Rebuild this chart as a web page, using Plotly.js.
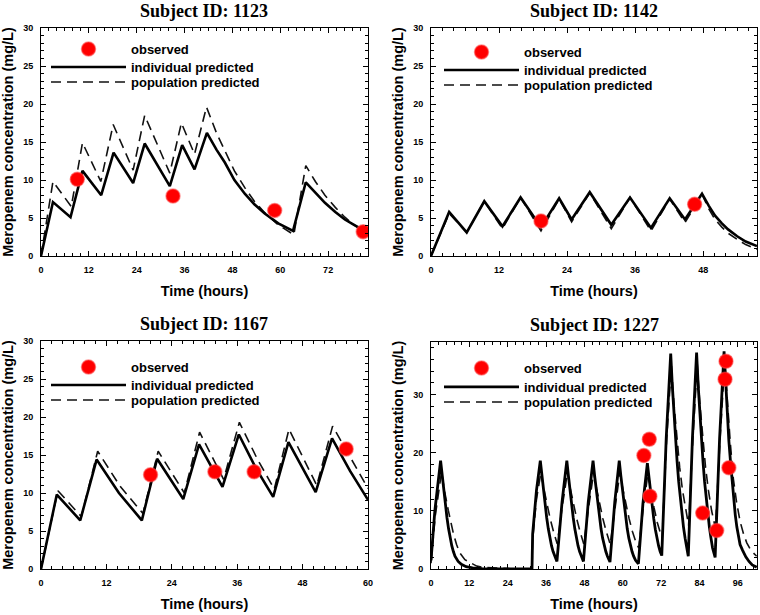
<!DOCTYPE html>
<html>
<head>
<meta charset="utf-8">
<script src="https://cdn.plot.ly/plotly-3.0.1.min.js"></script>
<style>html,body{margin:0;padding:0;background:#fff;}#chart{width:760px;height:615px;}</style>
</head>
<body>
<div id="chart"></div>
<script>
// ---------- Subject 1123 ----------
const s1123_ind_t = [0, 3, 7.4, 10.4, 15.1, 18.2, 23.1, 26, 32.3, 35.4, 38.5, 41.6, 44, 46.1, 48.5, 51.1, 53.5, 56.1, 59.5, 63.2, 66.4, 68.8, 71.2, 73.8, 76.2, 78.5, 80.8];
const s1123_ind_c = [0, 7.1, 5.1, 11.2, 8.0, 13.6, 9.6, 14.8, 9.2, 14.6, 11.4, 16.2, 14.0, 12.3, 10.0, 8.2, 6.8, 5.6, 4.3, 3.3, 9.7, 8.3, 7.0, 5.8, 4.8, 4.1, 3.4];
const s1123_pop_t = [0, 3, 7.6, 10.4, 15, 18.1, 23.1, 26, 32.3, 35.2, 38.5, 41.5, 44, 46.1, 48.5, 51.1, 53.5, 56.1, 59.5, 63.4, 66.4, 68.8, 71.2, 73.8, 76.2, 78.5, 80.8];
const s1123_pop_c = [0, 9.8, 6.5, 14.9, 9.8, 17.3, 11.3, 18.5, 10.9, 17.5, 13.4, 19.6, 16.2, 13.8, 11.2, 9.0, 7.2, 5.7, 4.1, 2.8, 11.9, 9.8, 8.0, 6.4, 5.1, 4.1, 3.3];
const s1123_obs_t = [9.1, 33.1, 58.6, 80.8];
const s1123_obs_c = [10.1, 7.9, 6.0, 3.2];

// ---------- Subject 1142 ----------
const s1142_ind_t = [0, 3.2, 6.3, 9.4, 12.6, 15.8, 19.4, 22.6, 24.8, 28, 31.8, 35.1, 38.8, 42.1, 44.8, 47.8, 49, 50.1, 51.3, 52.4, 54, 55.5, 57.5];
const s1142_ind_c = [0, 5.8, 3.1, 7.2, 3.9, 7.7, 3.8, 7.6, 4.8, 8.4, 4.1, 7.7, 3.7, 7.6, 4.8, 8.2, 6.6, 5.3, 4.3, 3.5, 2.6, 1.9, 1.3];
const s1142_pop_t = [0, 3.2, 6.3, 9.4, 12.6, 15.8, 19.4, 22.6, 24.8, 28, 31.8, 35.1, 38.8, 42.1, 44.8, 47.8, 49, 50.1, 51.3, 52.4, 54, 55.5, 57.5];
const s1142_pop_c = [0, 5.6, 3.1, 7.2, 3.6, 7.7, 3.3, 7.5, 4.5, 8.3, 3.6, 7.7, 3.3, 7.5, 4.4, 8.1, 6.2, 4.8, 3.8, 3.0, 2.2, 1.5, 0.9];
const s1142_obs_t = [19.4, 46.5];
const s1142_obs_c = [4.6, 6.8];

// ---------- Subject 1167 ----------
const s1167_ind_t = [0, 2.9, 7.2, 10.2, 14.3, 18.5, 21.3, 26.1, 29, 33.3, 36.3, 39.4, 42.6, 45.4, 50.4, 53.4, 56.7, 60];
const s1167_ind_c = [0, 9.8, 6.4, 14.4, 10.0, 6.4, 14.5, 9.2, 16.4, 10.8, 17.7, 13.3, 9.5, 16.7, 10.1, 17.2, 12.9, 9.1];
const s1167_pop_t = [0, 3.1, 7.4, 10.4, 14.5, 18.7, 21.5, 26.3, 29.1, 33.5, 36.4, 39.6, 42.8, 45.5, 50.6, 53.5, 60];
const s1167_pop_c = [0, 10.3, 6.9, 15.5, 10.9, 7.3, 15.5, 10.0, 18.0, 11.8, 19.3, 14.6, 10.5, 18.4, 11.0, 18.8, 10.6];
const s1167_obs_t = [20.1, 31.9, 39.1, 56];
const s1167_obs_c = [12.4, 12.8, 12.8, 15.8];

// ---------- Subject 1227 ----------
const s1227_ind_t = [0, 1.2, 3.0, 3.5, 4.0, 4.5, 5.0, 5.5, 6.0, 6.5, 7.0, 7.5, 8.5, 9.5, 11, 13, 16, 31.6,
  31.8, 33.0, 34.2, 34.7, 35.2, 35.7, 36.2, 36.7, 37.2, 37.7, 38.2, 38.7, 39.4,
  41.0, 42.5, 43.0, 43.5, 44.0, 44.5, 45.0, 45.5, 46.0, 46.5, 47.0, 47.7,
  49.2, 50.7, 51.2, 51.7, 52.2, 52.7, 53.2, 53.7, 54.2, 54.7, 55.2, 56.0,
  57.5, 58.9, 59.4, 59.9, 60.4, 60.9, 61.4, 61.9, 62.4, 62.9, 63.4, 64.0, 64.9,
  66.3, 67.7, 68.2, 68.7, 69.2, 69.7, 70.2, 70.7, 71.2, 71.7, 72.2,
  73.6, 75.0, 75.5, 76.0, 76.5, 77.0, 77.5, 78.0, 78.5, 79.0, 79.5, 80.0, 80.5,
  81.8, 83.1, 83.6, 84.1, 84.6, 85.1, 85.6, 86.1, 86.6, 87.1, 87.6, 88.1, 88.9,
  90.3, 91.7, 92.2, 92.7, 93.2, 93.7, 94.2, 94.7, 95.2, 95.7, 96.2, 96.7, 97.5, 98.5, 99.5, 100.5, 101.9];
const s1227_ind_c = [1.5, 10, 18.6, 16.0, 13.6, 11.0, 8.8, 6.9, 5.3, 4.0, 3.0, 2.2, 1.3, 0.8, 0.4, 0.2, 0.05, 0,
  6, 13.5, 18.6, 16.0, 13.5, 11.0, 8.8, 6.9, 5.3, 4.0, 3.0, 2.2, 1.3,
  11.5, 18.6, 16.0, 13.4, 11.0, 8.8, 6.9, 5.3, 4.0, 3.0, 2.2, 1.3,
  11.5, 18.6, 16.0, 13.5, 11.0, 8.8, 6.9, 5.3, 4.0, 3.0, 2.2, 1.2,
  11.5, 18.6, 16.0, 13.5, 11.0, 8.8, 6.9, 5.3, 4.0, 3.0, 2.2, 1.5, 0.9,
  11.2, 18.2, 15.6, 13.0, 10.7, 8.6, 6.8, 5.2, 4.0, 3.0, 2.3,
  22.5, 37.0, 31.5, 26.5, 22.0, 18.5, 15.0, 12.0, 9.3, 7.2, 5.3, 3.6, 2.2,
  22.5, 37.2, 31.5, 26.5, 22.0, 18.5, 15.0, 12.0, 9.3, 7.2, 5.3, 3.6, 2.0,
  22.5, 37.4, 31.5, 26.5, 22.0, 18.5, 15.0, 12.0, 9.3, 7.2, 5.3, 4.2, 3.2, 2.1, 1.3, 0.7, 0.3];
const s1227_pop_t = [0, 1.3, 3.3, 4.2, 5.4, 6.2, 7.0, 8.0, 9.0, 10.6, 12.7, 14.3, 16, 20, 25, 31.6,
  31.8, 33.0, 34.4, 35.3, 36.3, 37.3, 38.3, 39.5,
  41.0, 42.7, 43.6, 44.6, 45.6, 46.6, 47.8,
  49.3, 50.9, 51.8, 52.8, 53.8, 54.8, 56.1,
  57.6, 59.1, 60.0, 61.0, 62.0, 63.0, 64.0, 65.0,
  66.4, 67.9, 68.8, 69.8, 70.8, 71.6, 72.3,
  73.7, 75.2, 76.0, 76.9, 77.8, 78.7, 79.7, 80.6,
  81.9, 83.3, 84.1, 85.0, 85.9, 86.8, 87.8, 89.0,
  90.4, 91.9, 92.7, 93.6, 94.6, 95.6, 96.7, 97.8, 98.8, 99.8, 100.8, 101.9];
const s1227_pop_c = [1.0, 9, 16.7, 13.5, 10.1, 8.0, 6.1, 4.2, 2.8, 1.6, 0.9, 0.5, 0.3, 0.15, 0.05, 0,
  5, 12, 16.6, 13.8, 11.0, 8.6, 6.5, 4.3,
  10.5, 16.6, 13.8, 11.0, 8.6, 6.5, 4.3,
  10.5, 16.6, 13.8, 11.0, 8.6, 6.5, 4.2,
  10.5, 16.6, 13.8, 11.0, 8.6, 6.5, 4.8, 3.6,
  10.5, 16.5, 13.5, 10.5, 8.0, 6.3, 5.2,
  22, 35.0, 28.5, 22.5, 17.5, 13.5, 10.0, 7.5,
  22, 35.2, 28.5, 22.5, 17.5, 13.5, 10.0, 7.0,
  22, 35.5, 28.5, 22.0, 15.5, 11.5, 8.2, 6.0, 4.5, 3.5, 2.8, 2.2];
const s1227_obs_t = [66.6, 68.3, 68.5, 85.0, 89.4, 92.0, 92.3, 93.2];
const s1227_obs_c = [19.5, 22.3, 12.5, 9.6, 6.6, 32.6, 35.7, 17.4];

const panelTitles = ['Subject ID: 1123', 'Subject ID: 1142', 'Subject ID: 1167', 'Subject ID: 1227'];
const legendNames = ['observed', 'individual predicted', 'population predicted'];
const xTitle = 'Time (hours)';
const yTitle = 'Meropenem concentration (mg/L)';

const panels = [
  {ind:[s1123_ind_t, s1123_ind_c], pop:[s1123_pop_t, s1123_pop_c], obs:[s1123_obs_t, s1123_obs_c]},
  {ind:[s1142_ind_t, s1142_ind_c], pop:[s1142_pop_t, s1142_pop_c], obs:[s1142_obs_t, s1142_obs_c]},
  {ind:[s1167_ind_t, s1167_ind_c], pop:[s1167_pop_t, s1167_pop_c], obs:[s1167_obs_t, s1167_obs_c]},
  {ind:[s1227_ind_t, s1227_ind_c], pop:[s1227_pop_t, s1227_pop_c], obs:[s1227_obs_t, s1227_obs_c]}
];

const W = 760, H = 615;
const boxes = [ // plot areas in pixels: [left, right, top, bottom]
  [41, 368, 28, 256],
  [431, 757, 28, 256],
  [41, 368, 341, 569],
  [431, 757, 342, 569]
];
const xRanges = [[0, 82], [0, 57.5], [0, 60], [0, 102]];
const yRanges = [[0, 30], [0, 30], [0, 30], [0, 39]];
const yDticks = [5, 5, 5, 10];
const yMinor = [1, 1, 1, 2];
const xMinor = [2, 2, 2, 2.4];
// legend key placement (pixels): left of key line, and row centres [observed, individual, population]
const legLeft = [51, 444, 51, 444];
const legRows = [[48, 68, 83], [51, 71, 86], [366, 386, 401], [367, 388, 403]];

const sans = 'Liberation Sans, Arial, sans-serif';
const traces = [];
const layout = {
  width: W, height: H,
  margin: {l: 0, r: 0, t: 0, b: 0},
  paper_bgcolor: '#fff', plot_bgcolor: '#fff',
  showlegend: true,
  annotations: []
};

function legName(idx) { return idx === 1 ? 'legend' : 'legend' + idx; }

panels.forEach((p, i) => {
  const n = i === 0 ? '' : String(i + 1);
  const xa = 'x' + n, ya = 'y' + n;
  const lgObs = legName(i * 3 + 1), lgInd = legName(i * 3 + 2), lgPop = legName(i * 3 + 3);
  traces.push({
    x: p.pop[0], y: p.pop[1], xaxis: xa, yaxis: ya, mode: 'lines', name: legendNames[2],
    line: {color: '#111', width: 1.6, dash: '10px,6px'}, legend: lgPop, hoverinfo: 'skip'
  });
  traces.push({
    x: p.ind[0], y: p.ind[1], xaxis: xa, yaxis: ya, mode: 'lines', name: legendNames[1],
    line: {color: '#000', width: i === 3 ? 2.8 : 2.6}, legend: lgInd, hoverinfo: 'skip'
  });
  traces.push({
    x: p.obs[0], y: p.obs[1], xaxis: xa, yaxis: ya, mode: 'markers', name: legendNames[0],
    marker: {color: '#ff0000', size: 14, line: {color: 'rgba(255,70,70,0.55)', width: 1.5}},
    legend: lgObs, hoverinfo: 'skip'
  });
  const b = boxes[i];
  const axCommon = {
    showline: true, linecolor: '#000', linewidth: 1, mirror: 'allticks',
    ticks: 'inside', ticklen: 5, tickwidth: 1, tickcolor: '#000',
    showgrid: false, zeroline: false,
    tickfont: {family: sans, size: 9, color: '#000', weight: 'bold'},
    ticklabelstandoff: 5
  };
  const titleFont = {family: sans, size: 14.5, color: '#000', weight: 'bold'};
  layout['xaxis' + n] = Object.assign({}, axCommon, {
    domain: [b[0] / W, b[1] / W], range: xRanges[i], anchor: ya,
    tick0: 0, dtick: 12,
    minor: {ticks: 'inside', ticklen: 3, tickcolor: '#000', dtick: xMinor[i], tick0: 0},
    title: {text: xTitle, standoff: 12, font: titleFont}
  });
  layout['yaxis' + n] = Object.assign({}, axCommon, {
    domain: [1 - b[3] / H, 1 - b[2] / H], range: yRanges[i], anchor: xa,
    tick0: 0, dtick: yDticks[i],
    minor: {ticks: 'inside', ticklen: 3, tickcolor: '#000', dtick: yMinor[i], tick0: 0},
    title: {text: yTitle, standoff: 6, font: titleFont}
  });
  [lgObs, lgInd, lgPop].forEach((lg, k) => {
    layout[lg] = {
      x: (legLeft[i] - 5) / W, y: 1 - (legRows[i][k] - (k === 0 ? 14 : 16)) / H, xanchor: 'left', yanchor: 'top',
      bgcolor: 'rgba(0,0,0,0)', borderwidth: 0, itemwidth: 75,
      font: {family: sans, size: 13, color: '#000', weight: 'bold'},
      itemclick: false, itemdoubleclick: false
    };
  });
  layout.annotations.push({
    text: panelTitles[i], xref: 'paper', yref: 'paper',
    x: (b[0] + b[1]) / 2 / W, y: 1 - (b[2] - 17) / H, xanchor: 'center', yanchor: 'middle',
    showarrow: false,
    font: {family: 'Liberation Serif, Times New Roman, serif', size: 18, color: '#000', weight: 'bold'}
  });
});

Plotly.newPlot('chart', traces, layout, {staticPlot: true, displayModeBar: false});
</script>
</body>
</html>
